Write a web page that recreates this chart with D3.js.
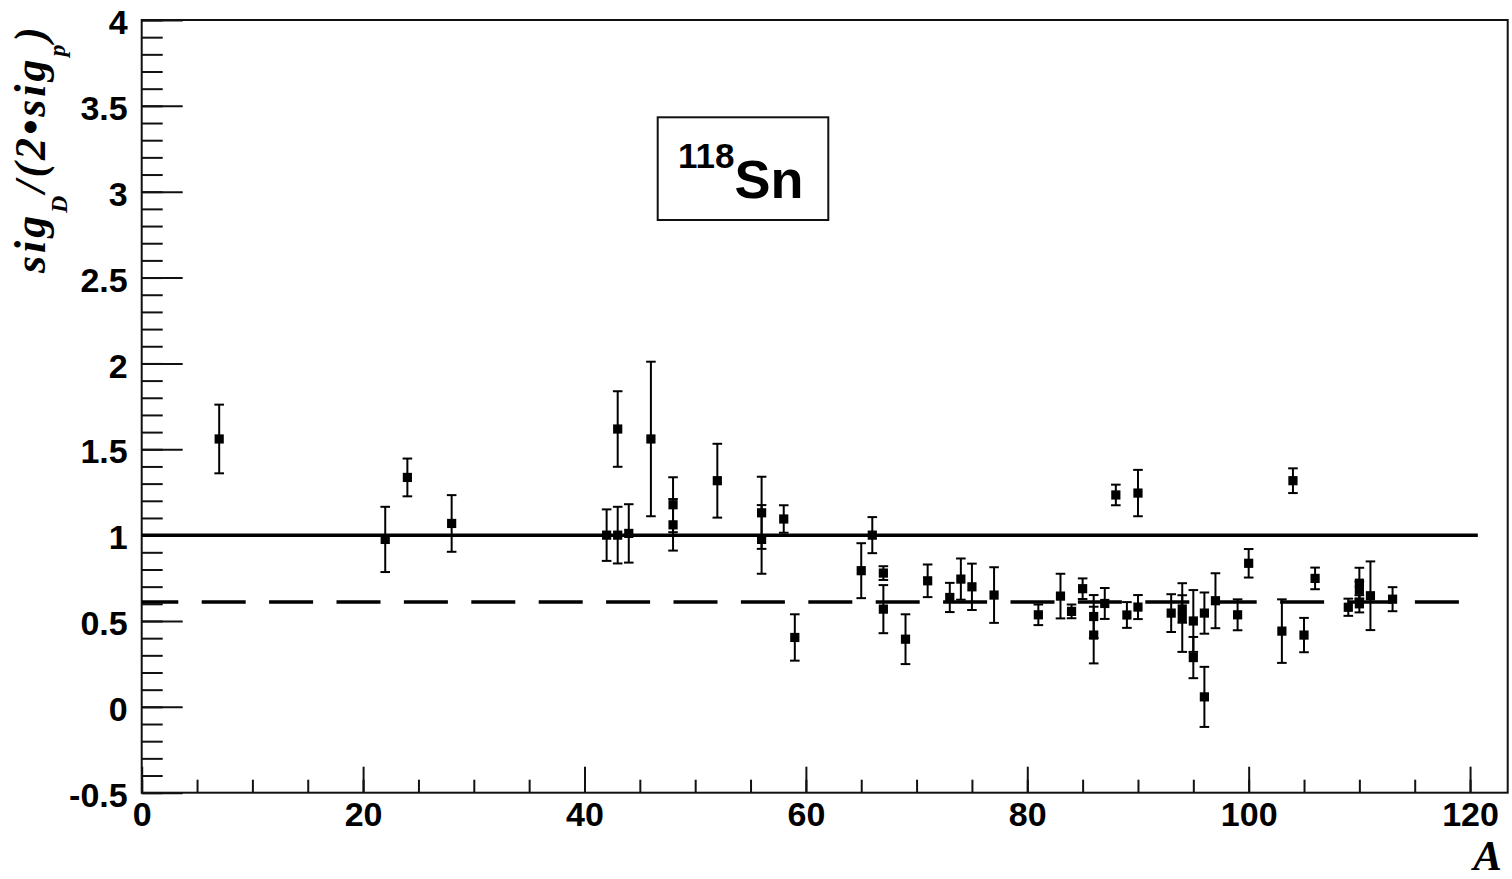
<!DOCTYPE html>
<html>
<head>
<meta charset="utf-8">
<script src="https://cdn.jsdelivr.net/npm/d3@7"></script>
<style>
  body { margin: 0; background: #fff; }
  .tick text { font-family: "Liberation Sans", Arial, sans-serif; font-weight: bold; font-size: 34px; fill: #000; }
</style>
</head>
<body>
<svg id="chart" width="1512" height="879"></svg>
<script>
// mass number A of each measured point
const massNumbers = [7, 22, 24, 28, 42, 43, 43, 44, 46, 48, 48, 52, 56, 56, 58, 59, 65, 66, 67, 67,
  69, 71, 73, 74, 75, 77, 81, 83, 84, 85, 86, 86, 87, 88, 89, 90, 90, 93, 94, 94,
  95, 95, 96, 96, 97, 99, 100, 103, 104, 105, 106, 109, 110, 110, 110, 111, 113]
// sig_D / (2 sig_p)
const ratios = [1.56, 0.975, 1.336, 1.068, 1.0, 1.0, 1.618, 1.01, 1.56, 1.177, 1.06, 1.317, 1.13, 0.975, 1.094, 0.404, 0.793, 1.0, 0.779, 0.569,
  0.394, 0.734, 0.637, 0.744, 0.699, 0.651, 0.536, 0.645, 0.556, 0.688, 0.526, 0.418, 0.602, 1.234, 0.535, 1.245, 0.581, 0.546, 0.57, 0.52,
  0.50, 0.287, 0.058, 0.546, 0.618, 0.536, 0.836, 0.441, 1.317, 0.418, 0.748, 0.58, 0.60, 0.72, 0.68, 0.647, 0.627]
const errors = [0.2, 0.19, 0.11, 0.165, 0.15, 0.165, 0.22, 0.17, 0.45, 0.16, 0.15, 0.215, 0.21, 0.2, 0.08, 0.135, 0.16, 0.105, 0.04, 0.14,
  0.145, 0.095, 0.085, 0.12, 0.135, 0.162, 0.06, 0.13, 0.04, 0.06, 0.125, 0.165, 0.09, 0.06, 0.075, 0.135, 0.07, 0.11, 0.08, 0.2,
  0.18, 0.12, 0.175, 0.12, 0.16, 0.09, 0.083, 0.185, 0.072, 0.1, 0.063, 0.05, 0.05, 0.09, 0.05, 0.2, 0.07]

// reference lines: level, x start, x end
const refLevels = [1.0, 0.61]
const refStart = [0, 0]
const refEnd = [120.7, 120]

const xMajorTicks = [0, 20, 40, 60, 80, 100, 120]
const xMinorTicks = d3.range(0, 121, 5)
const yMajorTicks = [-0.5, 0, 0.5, 1, 1.5, 2, 2.5, 3, 3.5, 4]
const yMinorTicks = d3.range(-5, 41).map(d => d / 10)

var svg = d3.select("#chart")
var frame = {left: 141.7, right: 1507.7, top: 20, bottom: 792.7}

var xScale = d3.scaleLinear().domain([0, 123.4]).range([frame.left, frame.right])
var yScale = d3.scaleLinear().domain([-0.5, 4]).range([frame.bottom, frame.top])

svg.append("rect").attr("width", 1512).attr("height", 879).attr("fill", "#fff")

// axes (ticks drawn inward like ROOT)
var xMinor = svg.append("g").attr("transform", "translate(0," + frame.bottom + ")")
  .call(d3.axisBottom(xScale).tickValues(xMinorTicks).tickSize(-13).tickFormat(""))
var xMajor = svg.append("g").attr("transform", "translate(0," + frame.bottom + ")")
  .call(d3.axisBottom(xScale).tickValues(xMajorTicks).tickSize(-26).tickPadding(6).tickFormat(d => String(d)))
var yMinor = svg.append("g").attr("transform", "translate(" + frame.left + ",0)")
  .call(d3.axisLeft(yScale).tickValues(yMinorTicks).tickSize(-21).tickFormat(""))
var yMajor = svg.append("g").attr("transform", "translate(" + frame.left + ",0)")
  .call(d3.axisLeft(yScale).tickValues(yMajorTicks).tickSize(-41).tickPadding(14).tickFormat(d => String(d)))
svg.selectAll(".domain").remove()
svg.selectAll(".tick line").attr("stroke", "#111").attr("stroke-width", 2)
yMajor.selectAll(".tick text").attr("dy", "0.4em")
xMajor.selectAll(".tick text").attr("dy", "0.8em")

// frame
svg.append("rect")
  .attr("x", frame.left).attr("y", frame.top)
  .attr("width", frame.right - frame.left).attr("height", frame.bottom - frame.top)
  .attr("fill", "none").attr("stroke", "#111").attr("stroke-width", 2)

// reference lines
svg.selectAll(".refline").data(refLevels).join("line").attr("class", "refline")
  .attr("x1", (d, i) => xScale(refStart[i]))
  .attr("x2", (d, i) => xScale(refEnd[i]))
  .attr("y1", d => yScale(d)).attr("y2", d => yScale(d))
  .attr("stroke", "#000").attr("stroke-width", 3.5)
  .attr("stroke-dasharray", (d, i) => i == 1 ? "44,23.4" : null)
  .attr("stroke-dashoffset", (d, i) => i == 1 ? 7.4 : null)

// error bars
var pts = massNumbers.map((a, i) => ({a: a, v: ratios[i], e: errors[i]}))
var eb = svg.append("g").attr("id", "errbars")
eb.selectAll("line.bar").data(pts).join("line").attr("class", "bar")
  .attr("x1", d => xScale(d.a)).attr("x2", d => xScale(d.a))
  .attr("y1", d => yScale(d.v + d.e)).attr("y2", d => yScale(d.v - d.e))
  .attr("stroke", "#000").attr("stroke-width", 2)
eb.selectAll("line.capt").data(pts).join("line").attr("class", "capt")
  .attr("x1", d => xScale(d.a) - 4.8).attr("x2", d => xScale(d.a) + 4.8)
  .attr("y1", d => yScale(d.v + d.e)).attr("y2", d => yScale(d.v + d.e))
  .attr("stroke", "#000").attr("stroke-width", 2)
eb.selectAll("line.capb").data(pts).join("line").attr("class", "capb")
  .attr("x1", d => xScale(d.a) - 4.8).attr("x2", d => xScale(d.a) + 4.8)
  .attr("y1", d => yScale(d.v - d.e)).attr("y2", d => yScale(d.v - d.e))
  .attr("stroke", "#000").attr("stroke-width", 2)

// markers
svg.append("g").selectAll("rect").data(pts).join("rect")
  .attr("x", d => xScale(d.a) - 4.6).attr("y", d => yScale(d.v) - 4.6)
  .attr("width", 9.2).attr("height", 9.2).attr("fill", "#000")

// legend box
svg.append("rect").attr("x", 657.7).attr("y", 117.3).attr("width", 170.6).attr("height", 102.7)
  .attr("fill", "#fff").attr("stroke", "#111").attr("stroke-width", 2)
var leg = svg.append("text").attr("x", 678).attr("y", 198)
  .style("font-family", "Liberation Sans, Arial, sans-serif").style("font-weight", "bold").style("fill", "#000")
leg.append("tspan").text("118").style("font-size", "35px").attr("dy", -30)
leg.append("tspan").text("Sn").style("font-size", "54px").attr("dy", 30)

// axis titles
var ytitle = svg.append("text")
  .attr("transform", "translate(45,150) rotate(-90)")
  .attr("text-anchor", "middle")
  .style("font-family", "Liberation Serif, Times New Roman, serif")
  .style("font-weight", "bold").style("font-style", "italic").style("font-size", "44px")
  .attr("textLength", 246).attr("lengthAdjust", "spacing")
ytitle.append("tspan").text("sig")
ytitle.append("tspan").text("D").style("font-size", "24px").attr("dy", 22)
ytitle.append("tspan").text("/(2\u2022sig").attr("dy", -22)
ytitle.append("tspan").text("p").style("font-size", "24px").attr("dy", 20)
ytitle.append("tspan").text(")").attr("dy", -20)

svg.append("text").attr("x", 1502).attr("y", 869.5).attr("text-anchor", "end")
  .style("font-family", "Liberation Serif, Times New Roman, serif")
  .style("font-weight", "bold").style("font-style", "italic").style("font-size", "43px")
  .text("A")
</script>
</body>
</html>
